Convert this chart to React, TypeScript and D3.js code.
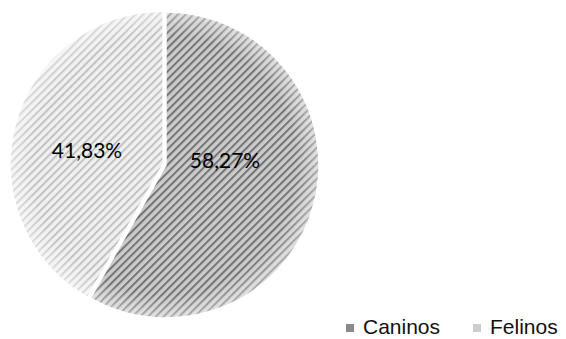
import React from "react";
import * as d3 from "d3";

const categories = ["Caninos", "Felinos"];
const values = [58.27, 41.83];
const labels = ["58,27%", "41,83%"];

const W = 566;
const H = 339;
const cx = 166;
const cy = 165;
const R = 153;

const fills = [
  { bg: "#cbcbcb", line: "#737373", key: "#8a8a8a" },
  { bg: "#f0f0f0", line: "#c2c2c2", key: "#cccccc" },
];
const explode = [0, 3];
const labelPos = [
  [225, 159],
  [87, 149],
];

export default function App() {
  const pie = d3.pie<number>().sort(null).startAngle(0).endAngle(2 * Math.PI);
  const arcs = pie(values);
  const arc = d3.arc<d3.PieArcDatum<number>>().innerRadius(0).outerRadius(R);

  return (
    <svg width={W} height={H} style={{ position: "absolute", left: 0, top: 0 }}>
      <defs>
        {fills.map((f, i) => (
          <pattern
            key={i}
            id={`hatch${i}`}
            width={5.5}
            height={5.5}
            patternUnits="userSpaceOnUse"
            patternTransform="rotate(45)"
          >
            <rect width={5.5} height={5.5} fill={f.bg} />
            <rect width={2} height={5.5} fill={f.line} />
          </pattern>
        ))}
        <radialGradient id="rim" gradientUnits="userSpaceOnUse" cx={0} cy={0} r={R}>
          <stop offset="0.85" stopColor="#fff" stopOpacity={0} />
          <stop offset="1" stopColor="#fff" stopOpacity={0.45} />
        </radialGradient>
      </defs>
      <rect width={W} height={H} fill="#fff" />
      {arcs.map((a, i) => {
        const mid = (a.startAngle + a.endAngle) / 2;
        const dx = explode[i] * Math.sin(mid);
        const dy = -explode[i] * Math.cos(mid);
        const d = arc(a) || "";
        return (
          <g key={categories[i]} transform={`translate(${cx + dx},${cy + dy})`}>
            <path d={d} fill={`url(#hatch${i})`} stroke="#fff" strokeWidth={1.5} />
            <path d={d} fill="url(#rim)" />
          </g>
        );
      })}
      {labels.map((t, i) => (
        <text
          key={t}
          x={labelPos[i][0]}
          y={labelPos[i][1]}
          textAnchor="middle"
          dominantBaseline="central"
          fontFamily="Lato, 'Open Sans', sans-serif"
          fontSize={21}
          fill="#000"
        >
          {t}
        </text>
      ))}
      {categories.map((c, i) => {
        const x0 = [346, 473][i];
        return (
          <g key={c}>
            <rect x={x0} y={324} width={8} height={8} fill={fills[i].key} />
            <text
              x={x0 + 17}
              y={334}
              fontFamily="'Liberation Sans', Arial, sans-serif"
              fontSize={21}
              fill="#111"
            >
              {c}
            </text>
          </g>
        );
      })}
    </svg>
  );
}
